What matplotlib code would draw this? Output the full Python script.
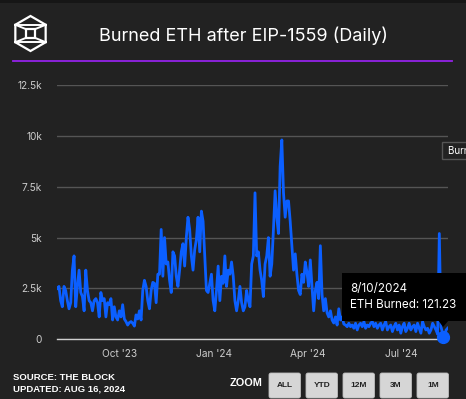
import matplotlib
matplotlib.use('Agg')
import matplotlib.pyplot as plt
from matplotlib.patches import Polygon, Rectangle, FancyBboxPatch
import pandas as pd

# Daily ETH burned (thousands), Aug 2023 -> mid Aug 2024
start_date = '2023-08-01'
end_date = '2024-08-15'
burned_k = [
    2.5, 2.6, 1.9, 1.6, 2.6, 2.4, 1.9, 1.5, 1.8, 3.4,
    4.1, 1.6, 2.6, 3.4, 2.3, 2.1, 1.4, 3.4, 2.4, 1.9,
    1.8, 1.4, 1.9, 2.0, 1.8, 1.1, 2.3, 1.9, 2.0, 1.1,
    1.8, 1.7, 2.0, 0.95, 1.6, 1.1, 0.95, 1.4, 1.1, 1.7,
    1.0, 0.87, 0.7, 0.82, 0.87, 0.79, 0.65, 1.2, 1.0, 1.4,
    0.95, 2.4, 2.9, 2.6, 1.9, 1.5, 2.4, 2.8, 2.75, 1.8,
    3.2, 3.2, 5.4, 3.1, 5.0, 3.7, 3.8, 2.9, 2.3, 4.3,
    4.1, 3.1, 2.6, 3.4, 4.3, 4.7, 3.6, 5.0, 6.0, 5.4,
    4.1, 3.4, 4.4, 4.9, 6.0, 4.3, 6.3, 5.8, 4.1, 2.4,
    2.3, 2.75, 3.2, 1.9, 1.4, 2.4, 3.6, 1.9, 3.1, 2.75,
    4.1, 2.6, 3.4, 3.2, 3.8, 3.1, 1.9, 1.4, 1.9, 2.6,
    1.8, 1.4, 1.6, 2.4, 1.9, 1.6, 3.7, 4.1, 7.2, 4.1,
    4.3, 3.4, 2.9, 2.1, 3.7, 4.1, 5.0, 3.1, 3.7, 5.4,
    7.3, 6.0, 5.2, 8.5, 9.8, 7.2, 6.0, 6.8, 6.8, 5.8,
    4.6, 3.4, 4.2, 3.2, 2.4, 2.2, 3.2, 2.8, 3.8, 3.3,
    2.6, 3.9, 2.6, 1.4, 2.4, 2.8, 2.0, 4.6, 2.2, 1.4,
    2.0, 1.3, 1.1, 1.4, 0.95, 0.8, 1.1, 0.7, 1.5, 0.95,
    1.1, 0.75, 0.7, 0.62, 0.79, 0.62, 0.7, 0.54, 0.79, 0.46,
    0.7, 0.79, 0.62, 0.87, 0.54, 0.7, 0.62, 0.79, 0.87, 0.62,
    0.79, 0.54, 0.7, 0.79, 0.46, 0.7, 0.87, 0.46, 0.62, 0.7,
    0.38, 0.62, 0.79, 0.46, 0.7, 0.3, 0.62, 0.79, 0.38, 0.54,
    0.79, 0.46, 0.62, 0.7, 0.38, 0.79, 0.54, 0.3, 0.87, 0.62,
    0.46, 0.54, 0.3, 0.46, 0.79, 0.62, 0.46, 0.25, 5.2, 0.6,
    0.3, 0.12, 0.45, 0.55,
]
tick_dates = ['2023-10-01', '2024-01-01', '2024-04-01', '2024-07-01']
tick_labels = ["Oct '23", "Jan '24", "Apr '24", "Jul '24"]
y_ticks = [0, 2500, 5000, 7500, 10000, 12500]
y_labels = ['0', '2.5k', '5k', '7.5k', '10k', '12.5k']
hover_date = '2024-08-10'
hover_value = 121.23
zoom_buttons = ['ALL', 'YTD', '12M', '3M', '1M']

BG = '#222222'
BLUE = '#0b5fff'
W, H = 466, 399

dates = pd.date_range(start_date, end_date, periods=len(burned_k))
values = [v * 1000 for v in burned_k]

fig = plt.figure(figsize=(W / 100, H / 100), dpi=100, facecolor=BG)

# main plot area
ax = fig.add_axes([57.3 / W, 1 - 339.3 / H, 390.4 / W, 254.3 / H])
ax.set_facecolor(BG)
ax.plot(dates, values, color=BLUE, lw=2.0, solid_joinstyle='round', zorder=3)
ax.axhline(0, color='#cfcfcf', lw=1, zorder=2, clip_on=False)
ax.plot(pd.Timestamp(hover_date), hover_value, 'o', color=BLUE, ms=8.5,
        zorder=4, clip_on=False)
ax.set_xlim(dates[0], dates[-1])
ax.set_ylim(0, 12500)
ax.set_yticks(y_ticks)
ax.set_yticklabels(y_labels)
ax.set_xticks([pd.Timestamp(d) for d in tick_dates])
ax.set_xticklabels(tick_labels)
ax.yaxis.grid(True, color='#555555', lw=1)
ax.set_axisbelow(True)
for s in ax.spines.values():
    s.set_visible(False)
ax.tick_params(axis='y', length=0, pad=11, labelcolor='#cccccc', labelsize=7.3)
ax.tick_params(axis='x', length=0, pad=7, labelcolor='#cccccc', labelsize=7.3)
for lab in ax.get_xticklabels() + ax.get_yticklabels():
    lab.set_family('Inter')

# overlay in pixel coordinates for header / footer / tooltip
ov = fig.add_axes([0, 0, 1, 1], zorder=5)
ov.set_xlim(0, W)
ov.set_ylim(H, 0)
ov.axis('off')
ov.patch.set_alpha(0)

ov.add_patch(Rectangle((0, 0), W, 3, color='#161616', lw=0))

# logo
cx, cy, r = 30.5, 33.5, 17.5
hx = r * 0.866
hexv = [(cx, cy - r), (cx + hx, cy - r / 2), (cx + hx, cy + r / 2),
        (cx, cy + r), (cx - hx, cy + r / 2), (cx - hx, cy - r / 2)]
ov.add_patch(Polygon(hexv, closed=True, fill=False, ec='white', lw=1.6,
                     joinstyle='miter'))
sq = 4.2
ov.add_patch(Rectangle((cx - sq, cy - sq), 2 * sq, 2 * sq, fill=False,
                       ec='white', lw=1.6))
for (vx, vy), (qx, qy) in zip([hexv[5], hexv[1], hexv[2], hexv[4]],
                              [(cx - sq, cy - sq), (cx + sq, cy - sq),
                               (cx + sq, cy + sq), (cx - sq, cy + sq)]):
    ov.plot([vx, qx], [vy, qy], color='white', lw=1.4)
ov.plot([hexv[5][0], hexv[1][0]], [hexv[5][1], hexv[1][1]], color='white', lw=1.4)
ov.plot([hexv[4][0], hexv[2][0]], [hexv[4][1], hexv[2][1]], color='white', lw=1.4)

ov.text(243, 35.5, 'Burned ETH after EIP-1559 (Daily)', ha='center', va='center',
        color='white', fontsize=13, family='Inter')
ov.plot([13, 452], [61, 61], color='#9422e8', lw=1.3)

# legend label cut by the right edge, as in the source
ov.add_patch(Rectangle((442, 142), 40, 17, fc=BG, ec='#555555', lw=1))
ov.text(448, 150.5, 'Burned ETH', ha='left', va='center', color='white',
        fontsize=7, family='Inter')

# tooltip
ov.add_patch(Rectangle((342, 273), 140, 47.5, fc='black', ec='none'))
ov.add_patch(Polygon([(438, 320), (449, 320), (443, 327)], closed=True,
                     fc='black', ec='none'))
ov.text(350, 289, pd.Timestamp(hover_date).strftime('%-m/%-d/%Y'), ha='left',
        va='center', color='white', fontsize=8.4, family='Inter')
ov.text(350, 305, f'ETH Burned: {hover_value:.2f}', ha='left', va='center',
        color='white', fontsize=8.4, family='Inter')

# footer
ov.text(13, 377, 'SOURCE: THE BLOCK', ha='left', va='center', color='white',
        fontsize=6.8, fontweight='bold', family='Liberation Sans')
ov.text(13, 389, 'UPDATED: AUG 16, 2024', ha='left', va='center', color='white',
        fontsize=6.8, fontweight='bold', family='Liberation Sans')
ov.text(262, 383, 'ZOOM', ha='right', va='center', color='white',
        fontsize=7.8, fontweight='bold', family='Liberation Sans')
bx = 269
for name in zoom_buttons:
    ov.add_patch(FancyBboxPatch((bx, 373), 31.5, 25, boxstyle='round,pad=0,rounding_size=2',
                                fc='#d6d6d6', ec='#bdbdbd', lw=0.6))
    ov.text(bx + 15.75, 385.5, name, ha='center', va='center', color='#222222',
            fontsize=6, fontweight='bold', family='Liberation Sans')
    bx += 37

fig.savefig('out.png', dpi=100, facecolor=BG)
